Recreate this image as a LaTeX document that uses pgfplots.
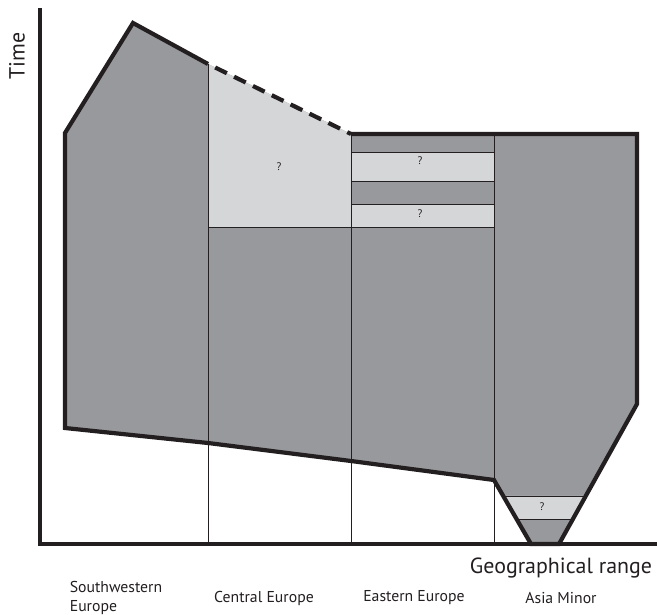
\documentclass[border=0pt]{standalone}
\usepackage{fontspec}
\setmainfont{PT Sans}
\usepackage{pgfplots}
\pgfplotsset{compat=1.18}
\definecolor{dk}{HTML}{98999C}
\definecolor{lt}{HTML}{D5D6D8}
\definecolor{ln}{HTML}{231F20}
\begin{document}
\begin{tikzpicture}
\begin{axis}[
 x=1bp, y=1bp, scale only axis,
 xmin=40, xmax=657, ymin=71, ymax=605,
 axis x line=bottom, axis y line=left,
 axis line style={line width=4.2bp, -, line cap=rect, ln},
 every outer x axis line/.append style={-},
 every outer y axis line/.append style={-},
 xtick={116,264,414,561}, ytick=\empty,
 xticklabels={{Southwestern\\Europe},{Central Europe},{Eastern Europe},{Asia Minor}},
 xticklabel style={anchor=center, yshift=-54bp, align=left, text=ln, font=\fontsize{15.8}{20}\selectfont},
 major tick length=0pt,
 xlabel={Geographical range}, ylabel={Time},
 xlabel style={at={(axis description cs:0.8444,-0.0449)}, anchor=center, text=ln, font=\fontsize{22}{25}\selectfont},
 ylabel style={at={(axis description cs:-0.0373,0.9139)}, anchor=center, text=ln, font=\fontsize{22}{25}\selectfont},
 clip=false,
]
% bounding box corners
\coordinate (bl) at (axis cs:0,0);
\coordinate (tr) at (axis cs:657,615);
% dark main range
\addplot[fill=dk, draw=none] coordinates {(65,187) (65,482) (133,592) (208,551) (351,481) (637,481) (637,211) (559,71) (531,71) (494,135) (351,154) (208,172)} -- cycle;
% light (uncertain) areas
\addplot[fill=lt, draw=none] coordinates {(208,551) (351,481) (351,388) (208,388)} -- cycle;
\addplot[fill=lt, draw=none] coordinates {(351,463) (494,463) (494,434) (351,434)} -- cycle;
\addplot[fill=lt, draw=none] coordinates {(351,411) (494,411) (494,388) (351,388)} -- cycle;
\addplot[fill=lt, draw=none] coordinates {(503.3,119) (585.7,119) (572.9,96) (516.5,96)} -- cycle;
% thin division lines
\addplot[ln, line width=0.8bp] coordinates {(208,71) (208,551)};
\addplot[ln, line width=0.8bp] coordinates {(351,71) (351,481)};
\addplot[ln, line width=0.8bp] coordinates {(494,71) (494,481)};
\addplot[ln, line width=0.8bp] coordinates {(208,388) (494,388)};
\addplot[ln, line width=0.8bp] coordinates {(351,463) (494,463)};
\addplot[ln, line width=0.8bp] coordinates {(351,434) (494,434)};
\addplot[ln, line width=0.8bp] coordinates {(351,411) (494,411)};
\addplot[ln, line width=0.8bp] coordinates {(503.3,119) (585.7,119)};
\addplot[ln, line width=0.8bp] coordinates {(516.5,96) (572.9,96)};
% thick outline
\addplot[ln, line width=4.2bp, line join=miter] coordinates {(208,551) (133,592) (65,482) (65,187) (208,172) (351,154) (494,135) (531,71) (559,71) (637,211) (637,481) (351,481)};
\addplot[ln, line width=4.2bp, dash pattern=on 13bp off 8bp, dash phase=13bp] coordinates {(208,551) (351,481)};
% question marks
\node[text=ln, font=\fontsize{11}{13}\selectfont] at (axis cs:279,448) {?};
\node[text=ln, font=\fontsize{11}{13}\selectfont] at (axis cs:420,454) {?};
\node[text=ln, font=\fontsize{11}{13}\selectfont] at (axis cs:420,401) {?};
\node[text=ln, font=\fontsize{11}{13}\selectfont] at (axis cs:542,108) {?};
\end{axis}
\pgfresetboundingbox
\path[use as bounding box] (bl) rectangle (tr);
\end{tikzpicture}
\end{document}
